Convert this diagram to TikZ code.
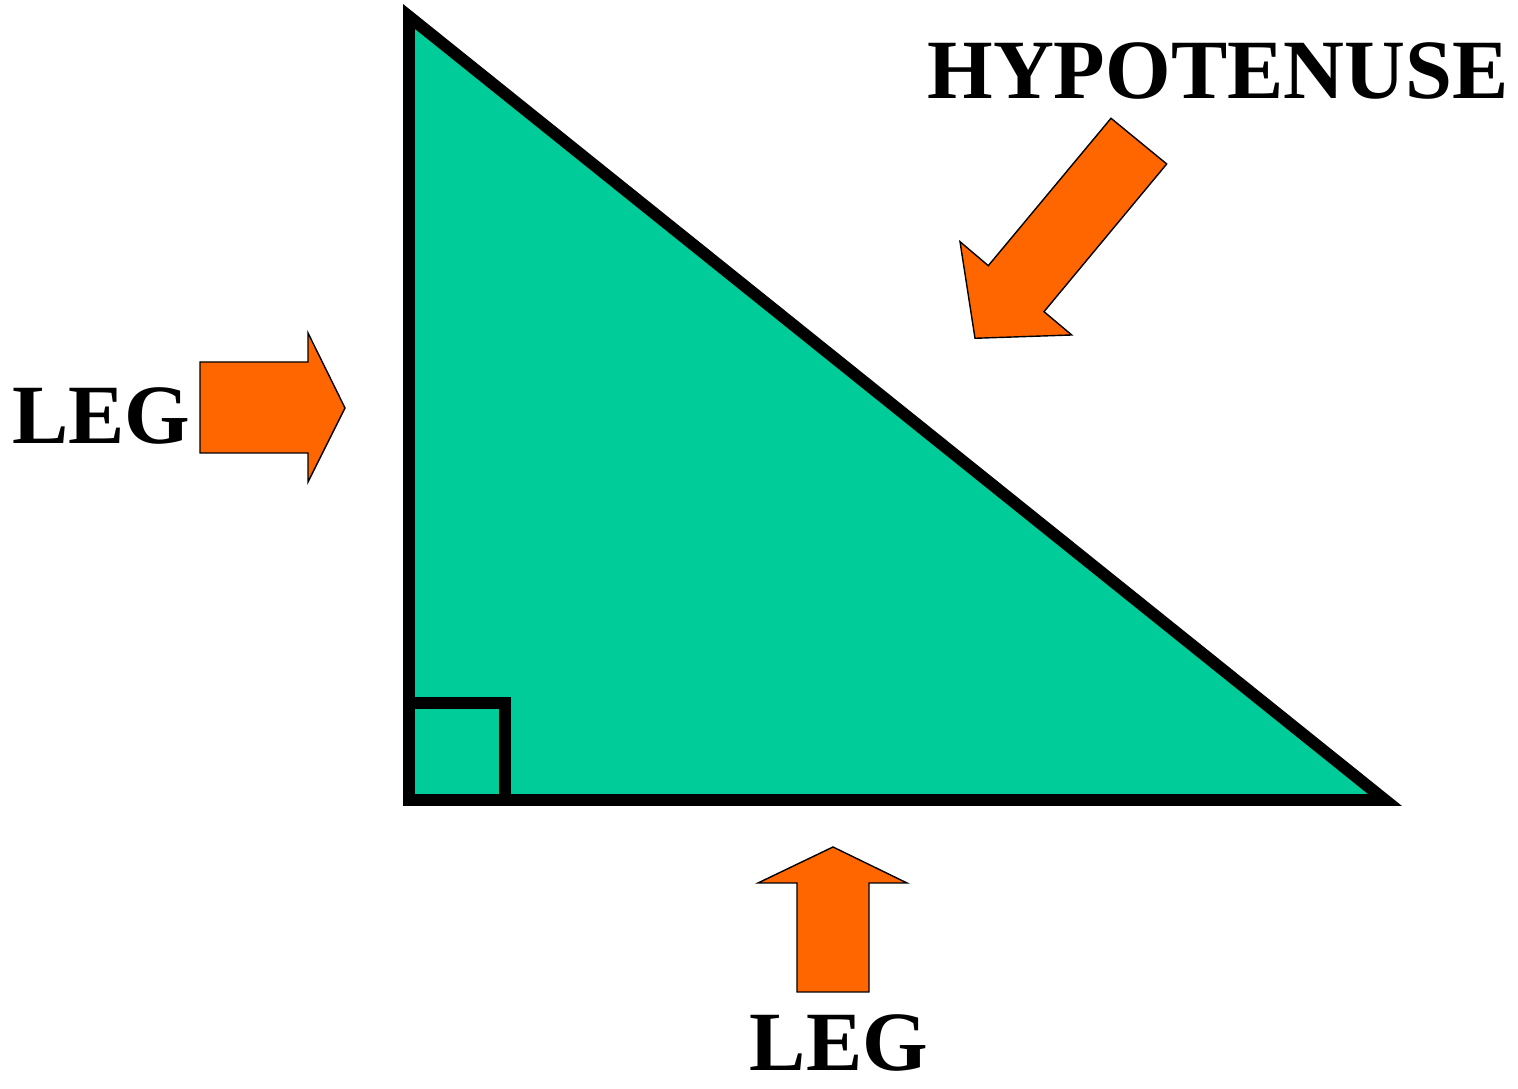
\documentclass[tikz,border=0pt]{standalone}
\usepackage{fontspec}
\setmainfont{Liberation Serif}
\usepackage{xcolor}
\usepackage{tikz}
\usetikzlibrary{calc}

\definecolor{trianglegreen}{HTML}{00CC99}
\definecolor{arroworange}{HTML}{FF6600}

\tikzset{
  sideline/.style={line width=3.4pt},
  blockarrow/.style={fill=arroworange, draw=black, line width=0.4pt},
  sidelabel/.style={font=\fontsize{24}{28}\selectfont\bfseries, inner sep=0pt, anchor=base}
}

\begin{document}
\begin{tikzpicture}
\useasboundingbox (0,0) rectangle (15.18,10.89);
% the triangle
\coordinate (top) at (4.09,10.725);
\coordinate (corner) at (4.09,2.89);
\coordinate (right) at (13.85,2.89);
\fill[trianglegreen] (top) -- (corner) -- (right) -- cycle;
\draw[sideline] (corner) rectangle (5.05,3.86);
\draw[sideline] (top) -- (corner) -- (right) -- cycle;

% labels
\node[sidelabel] (hyp) at (12.18,9.905) {HYPOTENUSE};
\node[sidelabel] (legleft) at (1.015,6.45) {LEG};
\node[sidelabel] (legbottom) at (8.39,0.18) {LEG};

% block arrows
\draw[blockarrow] (2.00,7.27) -- (3.08,7.27) -- (3.08,7.56) -- (3.45,6.81)
    -- (3.08,6.07) -- (3.08,6.36) -- (2.00,6.36) -- cycle;
\draw[blockarrow] (7.97,0.97) -- (7.97,2.06) -- (7.58,2.06) -- (8.33,2.42)
    -- (9.07,2.06) -- (8.69,2.06) -- (8.69,0.97) -- cycle;
\draw[blockarrow] (11.11,9.707) -- (11.667,9.25) -- (10.44,7.773) -- (10.717,7.54)
    -- (9.75,7.507) -- (9.60,8.473) -- (9.883,8.233) -- cycle;

\end{tikzpicture}
\end{document}
